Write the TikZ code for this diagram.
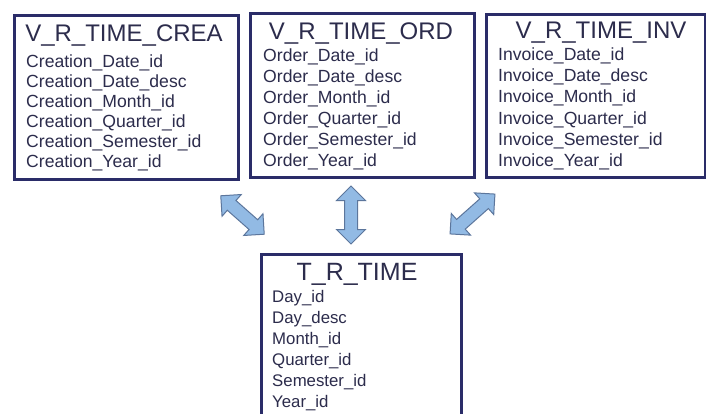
\documentclass[tikz,border=0pt]{standalone}
\usepackage{fontspec}
\setmainfont{Liberation Sans}
\usetikzlibrary{shapes.arrows}
\definecolor{frame}{RGB}{42,44,104}
\definecolor{ink}{RGB}{44,44,76}
\definecolor{arrowfill}{RGB}{146,186,228}
\definecolor{arrowline}{RGB}{92,118,156}
\begin{document}
\begin{tikzpicture}[x=1pt,y=-1pt,
  tablebox/.style={draw=frame, line width=2.7pt, fill=white, anchor=north west, inner sep=0},
  tabletitle/.style={anchor=base, font=\fontsize{24}{26}\selectfont, text=ink, inner sep=0},
  field/.style={anchor=base west, font=\fontsize{17.6}{20}\selectfont, text=ink, inner sep=0},
  smallfield/.style={field, font=\fontsize{16.8}{19}\selectfont},
  link/.style={double arrow, draw=arrowline, fill=arrowfill, line width=1pt,
    minimum height=58pt, minimum width=28pt, inner xsep=0pt, inner ysep=6pt,
    double arrow head extend=8pt, double arrow tip angle=90}]
\clip (0,0) rectangle (706,414);
\fill[white] (0,0) rectangle (706,414);

% view of creation dates
\node[tablebox, minimum width=224pt, minimum height=164pt] (crea) at (13,14) {};
\node[tabletitle] (crea-t) at (124,42) {V\_R\_TIME\_CREA};
\foreach \t [count=\i] in {Creation\_Date\_id, Creation\_Date\_desc, Creation\_Month\_id,
    Creation\_Quarter\_id, Creation\_Semester\_id, Creation\_Year\_id}
  \node[field] (crea-\i) at (26,{67.5+20*(\i-1)}) {\t};

% view of order dates
\node[tablebox, minimum width=224pt, minimum height=164pt] (ord) at (249,12) {};
\node[tabletitle] (ord-t) at (361,40) {V\_R\_TIME\_ORD};
\foreach \t [count=\i] in {Order\_Date\_id, Order\_Date\_desc, Order\_Month\_id,
    Order\_Quarter\_id, Order\_Semester\_id, Order\_Year\_id}
  \node[field] (ord-\i) at (263,{61.5+21*(\i-1)}) {\t};

% view of invoice dates
\node[tablebox, minimum width=219pt, minimum height=163pt] (inv) at (485,13) {};
\node[tabletitle] (inv-t) at (601,39) {V\_R\_TIME\_INV};
\foreach \t [count=\i] in {Invoice\_Date\_id, Invoice\_Date\_desc, Invoice\_Month\_id,
    Invoice\_Quarter\_id, Invoice\_Semester\_id, Invoice\_Year\_id}
  \node[field] (inv-\i) at (498,{60.5+21.2*(\i-1)}) {\t};

% base time table
\node[tablebox, minimum width=200pt, minimum height=200pt] (time) at (260,253) {};
\node[tabletitle, font=\fontsize{25}{27}\selectfont] (time-t) at (357,280) {T\_R\_TIME};
\foreach \t [count=\i] in {Day\_id, Day\_desc, Month\_id, Quarter\_id, Semester\_id, Year\_id}
  \node[smallfield] (time-\i) at (272,{302+21*(\i-1)}) {\t};

% links between the views and the base table
\node[link, minimum height=58pt, rotate=-41.5] (crea-link) at (242.5,215) {};
\node[link, minimum height=58pt, rotate=90] (ord-link) at (351,215) {};
\node[link, minimum height=60pt, rotate=41.6] (inv-link) at (472.5,214) {};
\end{tikzpicture}
\end{document}
